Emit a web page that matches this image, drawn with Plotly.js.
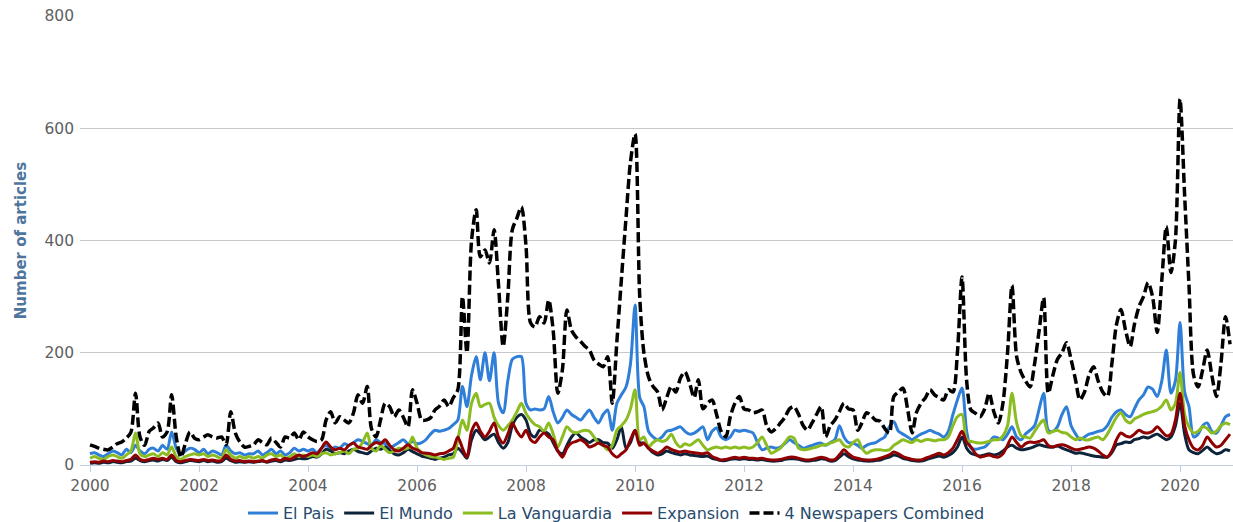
<!DOCTYPE html>
<html>
<head>
<meta charset="utf-8">
<script src="https://cdn.plot.ly/plotly-3.0.1.min.js"></script>
<style>
html,body{margin:0;padding:0;background:#fff;}
#chart{width:1233px;height:522px;}
</style>
</head>
<body>
<div id="chart"></div>
<script>
// Monthly series, Jan 2000 .. Dec 2020
var startYear = 2000;
var tickYears = ['2000','2002','2004','2006','2008','2010','2012','2014','2016','2018','2020'];
var seriesNames = ['El Pais','El Mundo','La Vanguardia','Expansion','4 Newspapers Combined'];

var elPais = [
 20,22,18,15,20,25,22,18,28,22,35,25,
 20,28,30,25,35,28,59,30,18,25,30,28,
 22,28,20,25,22,18,35,25,20,22,18,20,
 20,25,18,22,28,20,25,18,22,30,25,28,
 25,28,22,30,35,28,32,30,38,35,40,45,
 42,38,35,45,40,38,30,35,40,45,38,42,
 38,40,45,55,62,60,62,65,72,80,140,104,
 160,193,152,200,150,200,110,93,150,188,193,193,
 110,98,100,98,100,122,95,75,85,98,90,85,
 80,90,98,85,75,90,98,62,110,125,139,180,
 285,120,104,60,50,45,50,60,62,65,68,60,
 55,57,62,68,45,60,66,50,45,50,62,60,
 62,60,57,40,27,30,32,30,32,38,45,40,
 35,30,32,35,38,39,35,40,45,70,50,40,
 39,35,30,35,38,40,45,50,68,77,60,55,
 50,45,50,55,58,62,58,55,50,60,90,116,
 137,60,30,28,30,32,40,50,48,45,55,68,
 50,45,55,62,70,100,128,62,60,68,90,104,
 70,55,45,50,55,57,60,62,70,85,95,98,
 90,86,100,116,125,139,135,122,150,205,128,150,
 254,130,104,50,55,70,75,60,57,70,86,90
];
var elMundo = [
 3,4,3,5,4,6,5,4,6,7,12,8,
 6,8,9,7,10,8,14,6,4,6,8,7,
 6,8,6,7,5,6,12,8,5,6,5,6,
 5,6,7,5,7,8,6,9,8,10,12,11,
 12,15,14,20,28,25,20,22,20,25,28,24,
 22,20,25,30,28,32,26,20,18,22,28,24,
 20,16,14,12,10,12,14,18,20,30,22,12,
 45,62,55,45,50,55,40,30,40,70,85,90,
 80,55,50,62,60,55,40,25,20,35,50,57,
 50,45,40,45,45,40,39,30,45,68,30,40,
 62,40,39,30,22,18,20,25,22,20,18,20,
 18,17,16,15,16,12,10,8,8,10,11,10,
 11,10,10,9,10,8,7,7,8,10,11,11,
 10,8,7,8,9,11,10,7,8,14,20,15,
 11,9,8,7,7,8,9,12,14,18,16,12,
 10,8,7,7,9,12,14,16,14,17,22,32,
 50,30,21,18,16,18,20,18,20,25,32,35,
 30,27,28,30,33,36,34,32,32,34,30,27,
 24,21,22,20,18,16,15,14,14,22,36,38,
 41,40,45,47,50,48,52,55,50,45,50,70,
 110,55,27,22,20,26,32,25,20,22,27,25
];
var laVanguardia = [
 12,15,12,10,15,18,15,12,18,25,57,20,
 15,18,20,15,22,18,32,15,10,15,18,20,
 18,20,15,18,15,12,27,18,12,15,12,15,
 12,15,12,18,20,15,18,12,15,20,15,18,
 15,18,15,20,22,18,20,22,25,20,28,30,
 40,57,30,25,35,28,22,25,30,28,30,50,
 30,22,18,15,14,12,10,12,14,45,80,62,
 110,128,104,108,110,85,70,62,70,80,95,110,
 92,80,72,68,60,75,55,32,50,68,60,57,
 60,62,60,50,39,35,27,35,62,70,80,100,
 134,45,50,32,40,45,42,45,55,40,32,38,
 35,40,45,35,27,30,32,30,32,30,32,30,
 32,30,32,40,50,35,21,25,30,40,50,48,
 30,27,28,30,32,35,36,39,42,45,35,32,
 40,45,30,21,25,27,27,26,27,35,40,45,
 42,40,45,42,45,45,43,45,45,50,70,86,
 90,45,42,40,39,40,42,45,45,52,70,128,
 75,52,50,48,60,72,80,57,60,62,58,57,
 50,45,48,45,45,48,50,45,55,70,85,93,
 80,75,82,86,90,93,95,98,105,116,98,110,
 165,90,68,57,60,68,65,57,60,70,75,72
];
var expansion = [
 5,6,5,7,6,8,7,6,8,10,18,10,
 8,10,12,10,12,10,18,8,6,8,10,9,
 8,10,8,9,7,8,18,10,7,8,6,7,
 6,7,8,6,9,10,8,12,10,14,18,15,
 18,22,20,30,41,32,27,30,27,35,39,32,
 30,28,35,40,38,45,35,27,25,30,36,30,
 27,22,21,20,18,20,21,25,30,50,30,14,
 60,75,60,50,60,75,50,39,55,75,60,50,
 62,45,40,50,57,50,45,25,14,30,39,42,
 45,40,32,35,39,35,32,20,14,20,27,45,
 62,35,39,30,25,21,25,32,28,25,23,25,
 23,22,21,20,22,15,12,9,10,12,14,12,
 14,12,12,11,12,10,9,9,10,12,14,14,
 12,10,9,10,12,14,12,9,10,18,27,20,
 14,12,10,9,9,10,12,15,18,23,20,15,
 12,10,9,9,12,15,18,21,18,22,30,45,
 60,40,32,20,14,16,18,15,14,20,35,50,
 40,32,38,41,40,42,45,35,32,35,36,34,
 30,27,28,30,32,30,25,18,14,25,45,57,
 52,50,55,62,58,57,60,68,60,52,55,80,
 128,70,45,30,27,35,50,40,32,35,45,55
];
var combined = [
 36,33,30,28,27,32,38,41,48,58,128,50,
 35,60,66,75,50,59,125,50,14,38,59,48,
 45,50,54,50,48,50,36,95,57,41,32,33,
 36,45,40,36,48,40,32,50,48,57,45,59,
 50,45,42,45,80,95,75,86,80,75,93,125,
 110,140,65,50,80,110,104,86,98,85,68,134,
 110,80,80,84,98,105,116,104,120,134,300,200,
 400,455,371,383,360,419,320,211,300,419,440,460,
 390,253,246,264,253,294,240,128,170,276,240,228,
 220,211,205,187,180,175,193,110,220,330,440,540,
 590,300,200,157,140,130,98,120,140,130,155,166,
 146,120,152,100,110,116,90,60,50,86,110,122,
 100,98,93,95,98,70,59,65,75,85,100,104,
 90,70,62,75,90,104,50,70,80,95,110,100,
 98,62,75,93,88,80,78,65,57,122,130,137,
 100,57,93,110,120,134,125,120,116,134,130,200,
 335,150,98,92,86,100,128,95,75,110,200,320,
 193,164,150,139,180,240,298,128,160,188,200,218,
 188,150,116,130,160,175,150,130,122,180,250,277,
 240,211,250,282,300,325,300,236,330,425,343,400,
 652,480,320,160,139,170,205,160,122,180,264,215
];

function monthDates(n){
  var out=[];
  for(var i=0;i<n;i++){
    var y=startYear+Math.floor(i/12), m=(i%12)+1;
    out.push(y+'-'+(m<10?'0':'')+m+'-01');
  }
  return out;
}
var dates = monthDates(combined.length);

var colors = ['#2f7ed8','#0d233a','#8bbc21','#910000','#000000'];
var allSeries = [elPais, elMundo, laVanguardia, expansion, combined];

var traces = allSeries.map(function(vals, i){
  return {
    type:'scatter', mode:'lines', x:dates, y:vals, name:seriesNames[i],
    line:{color:colors[i], width: i===4?3.5:3, shape:'spline', smoothing:0.8,
          dash: i===4?'10px,4px':'solid'},
    hoverinfo:'x+y+name'
  };
});

var fontFam = 'DejaVu Sans, Verdana, sans-serif';
var layout = {
  width:1233, height:522,
  margin:{l:80, r:0, t:16, b:57},
  paper_bgcolor:'#ffffff', plot_bgcolor:'#ffffff',
  font:{family:fontFam, color:'#606060', size:15},
  showlegend:true,
  legend:{orientation:'h', x:0.5, xanchor:'center', xref:'container',
          y:0.017, yanchor:'middle', yref:'container',
          font:{family:fontFam, size:16, color:'#274b6d'}, itemwidth:30,
          traceorder:'normal', bgcolor:'rgba(0,0,0,0)'},
  xaxis:{
    type:'date', range:['1999-10-26','2020-12-21'],
    tickmode:'array',
    tickvals: tickYears.map(function(y){return y+'-01-01';}),
    ticktext: tickYears,
    ticks:'outside', ticklen:6, tickcolor:'#C0D0E0', tickwidth:1,
    showline:true, linecolor:'#C0D0E0', linewidth:1,
    showgrid:false, zeroline:false,
    tickfont:{family:fontFam, size:15.5, color:'#606060'}
  },
  yaxis:{
    range:[0,800], tickvals:[0,200,400,600,800],
    showgrid:true, gridcolor:'#C8C8C8', gridwidth:1,
    zeroline:false, showline:false, ticks:'',
    ticklabelstandoff:5,
    tickfont:{family:fontFam, size:15.5, color:'#606060'},
    title:{text:'Number of articles', standoff:14,
           font:{family:fontFam, size:15, color:'#4d759e', weight:'bold'}}
  }
};

Plotly.newPlot('chart', traces, layout, {displayModeBar:false, responsive:false});
</script>
</body>
</html>
